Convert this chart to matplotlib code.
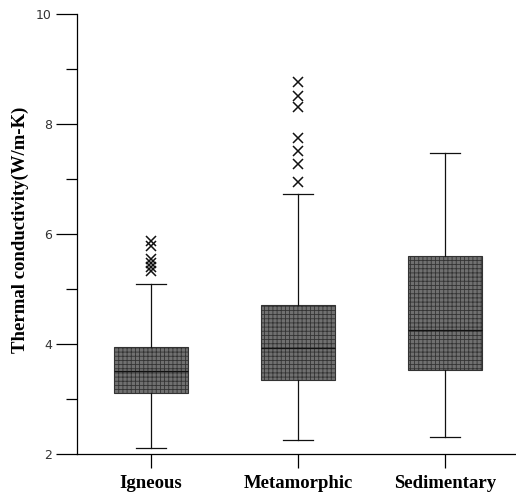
import matplotlib
matplotlib.use('Agg')
from matplotlib import pyplot as plt

rock_types = ['Igneous', 'Metamorphic', 'Sedimentary']
q1 = [3.11, 3.35, 3.53]
medians = [3.51, 3.92, 4.25]
q3 = [3.95, 4.70, 5.60]
whisker_low = [2.11, 2.25, 2.31]
whisker_high = [5.09, 6.72, 7.47]
outliers = [
    [5.32, 5.40, 5.48, 5.55, 5.78, 5.87],
    [6.95, 7.28, 7.50, 7.75, 8.30, 8.50, 8.77],
    [],
]

stats = []
for i in range(len(rock_types)):
    stats.append({'label': rock_types[i], 'q1': q1[i], 'med': medians[i], 'q3': q3[i],
                  'whislo': whisker_low[i], 'whishi': whisker_high[i], 'fliers': outliers[i]})

plt.rcParams['hatch.color'] = '#3a3a3a'
plt.rcParams['hatch.linewidth'] = 0.6

fig = plt.figure(figsize=(5.16, 4.98), dpi=100)
ax = fig.add_axes([0.149, 0.0884, 0.851, 0.8835])

res = ax.bxp(stats, positions=[1, 2, 3], widths=0.5, patch_artist=True, showfliers=True,
             boxprops=dict(facecolor='#707070', edgecolor='#333333', linewidth=0.8, hatch='++++'),
             medianprops=dict(color='#111111', linewidth=0.9),
             whiskerprops=dict(color='#111111', linewidth=0.9),
             capprops=dict(color='#111111', linewidth=0.9),
             capwidths=0.2,
             flierprops=dict(marker='x', markersize=6.5, markeredgecolor='#111111', markeredgewidth=1.1))

ax.set_xlim(0.497, 3.483)
ax.set_ylim(2, 10)
ax.set_yticks([2, 4, 6, 8, 10])
ax.set_yticks([3, 5, 7, 9], minor=True)
ax.set_xticks([1, 2, 3])
ax.set_xticklabels(rock_types, family='Liberation Serif', fontweight='bold', fontsize=13.5)
ax.tick_params(axis='y', which='major', direction='out', length=15, width=0.9, labelsize=9,
               labelcolor='#333333', pad=3)
ax.tick_params(axis='y', which='minor', direction='out', length=8, width=0.9)
ax.tick_params(axis='x', direction='out', length=10, width=0.9, pad=5)

ax.spines['top'].set_visible(False)
ax.spines['right'].set_visible(False)
ax.spines['left'].set_linewidth(0.9)
ax.spines['bottom'].set_linewidth(0.9)

ax.set_ylabel('Thermal conductivity(W/m-K)', family='Liberation Serif', fontweight='bold',
              fontsize=13.5)
ax.yaxis.set_label_coords(-0.108, 0.51)

plt.savefig('out.png', dpi=100)
